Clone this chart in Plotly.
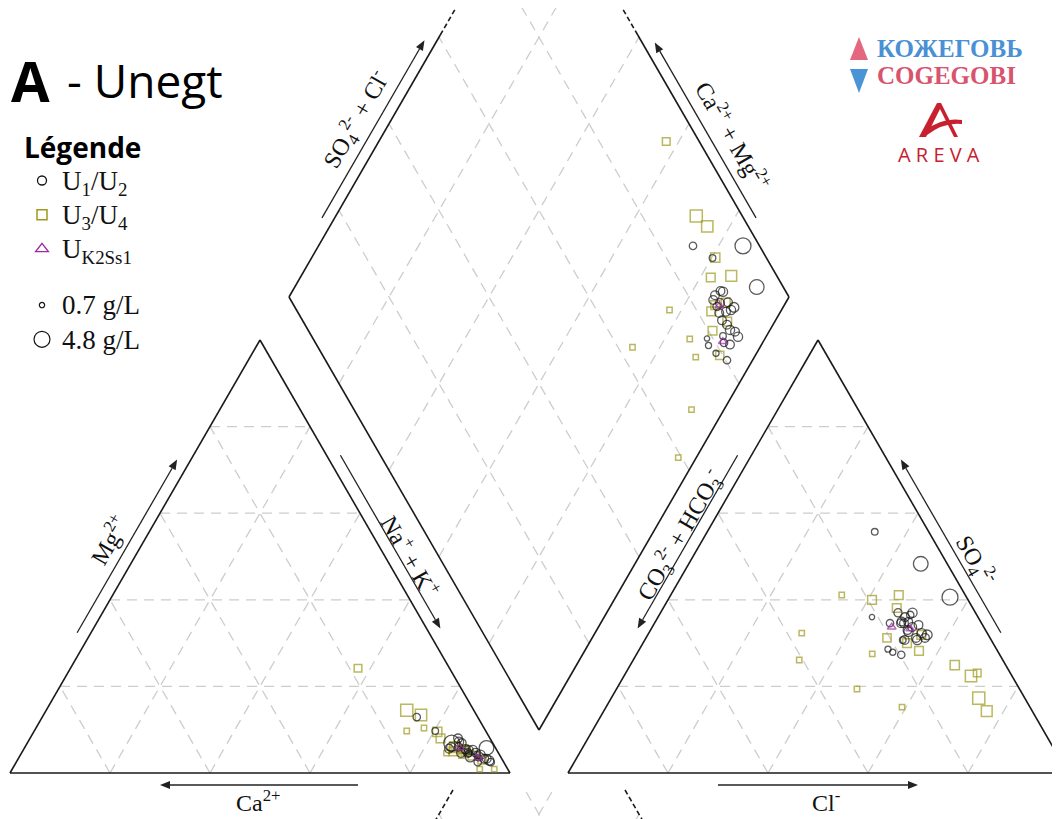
import math
import plotly.graph_objects as go

# ---------------- DATA (% of meq/L, TDS in g/L) ----------------
# U1/U2 samples (circles)
u12_ca = [12.2, 8.2, 1.8, 10.1, 6.6, 6.0, 4.6, 2.6, 9.4, 6.2, 6.6, 6.1, 7.3, 6.1, 4.5, 3.8, 3.5, 2.7, 3.0, 8.8, 5.6, 7.5, 4.8, 6.1, 4.5, 5.2, 6.4]
u12_mg = [12.9, 6.9, 5.8, 9.7, 5.0, 4.5, 3.5, 2.5, 5.6, 6.9, 7.2, 5.5, 6.0, 4.6, 4.7, 4.2, 3.3, 2.9, 3.3, 6.0, 5.3, 4.6, 5.3, 3.7, 4.2, 2.5, 8.0]
u12_nak = [74.9, 84.9, 92.4, 80.2, 88.4, 89.5, 91.9, 94.9, 85.0, 86.9, 86.2, 88.4, 86.7, 89.3, 90.8, 92.0, 93.2, 94.4, 93.7, 85.2, 89.1, 87.9, 89.9, 90.2, 91.3, 92.3, 85.6]
u12_hco3 = [13.3, 3.3, 5.3, 10.8, 21.2, 21.7, 21.1, 19.7, 14.6, 14.5, 12.6, 12.8, 15.5, 16.1, 15.6, 15.6, 14.8, 14.8, 17.3, 15.5, 14.3, 15.8, 13.1, 12.2, 17.7, 18.3, 13.0]
u12_so4 = [36.5, 40.6, 48.3, 55.7, 36.0, 28.6, 27.9, 27.3, 36.0, 34.9, 37.0, 34.2, 37.0, 34.6, 33.0, 32.6, 31.2, 30.7, 30.7, 34.6, 33.7, 35.0, 32.3, 31.9, 30.7, 34.6, 31.2]
u12_cl = [50.2, 56.1, 46.4, 33.5, 42.8, 49.7, 51.0, 53.0, 49.4, 50.6, 50.4, 53.0, 47.5, 49.3, 51.4, 51.8, 54.0, 54.5, 52.0, 49.9, 52.0, 49.2, 54.6, 55.9, 51.6, 47.1, 55.8]
u12_tds = [1.5, 4.8, 4.3, 1.2, 0.7, 1.0, 1.0, 1.5, 2.0, 2.0, 2.2, 2.0, 1.8, 2.0, 2.0, 2.2, 2.0, 2.2, 2.0, 2.0, 2.0, 2.0, 2.2, 2.4, 1.2, 1.5, 2.0]

# U3/U4 samples (squares)
u34_ca = [18.3, 13.4, 11.1, 8.0, 9.8, 9.9, 12.0, 7.9, 8.8, 6.4, 10.4, 15.8, 5.5, 7.7, 4.1, 5.6, 2.7, 6.5]
u34_mg = [24.2, 14.5, 13.4, 6.0, 9.5, 8.0, 10.4, 6.0, 5.0, 5.0, 4.6, 9.7, 4.0, 4.0, 3.0, 0.9, 0.9, 5.5]
u34_nak = [57.5, 72.1, 75.5, 86.0, 80.7, 82.1, 77.6, 86.1, 86.2, 88.6, 85.0, 74.5, 90.5, 88.3, 92.9, 93.5, 96.4, 88.0]
u34_hco3 = [6.6, 9.2, 8.2, 9.1, 10.2, 13.4, 25.4, 17.2, 15.7, 19.2, 24.7, 37.1, 15.2, 25.6, 20.6, 32.5, 40.7, 13.3]
u34_so4 = [23.1, 17.3, 22.4, 14.3, 24.9, 31.9, 27.5, 30.0, 28.2, 40.0, 41.1, 32.3, 38.1, 15.2, 31.2, 19.4, 26.1, 41.1]
u34_cl = [70.3, 73.5, 69.4, 76.6, 64.9, 54.7, 47.1, 52.8, 56.1, 40.8, 34.2, 30.6, 46.7, 59.2, 48.2, 48.1, 33.2, 45.6]
u34_tds = [1.6, 3.3, 3.0, 2.8, 2.2, 2.0, 0.7, 2.0, 2.0, 2.0, 0.7, 0.7, 2.0, 0.7, 1.8, 0.7, 0.7, 2.0]

# U K2Ss1 samples (triangles)
k2_ca = [7.1, 4.6]
k2_mg = [5.8, 3.5]
k2_nak = [87.1, 91.9]
k2_hco3 = [14.9, 18.4]
k2_so4 = [33.3, 33.7]
k2_cl = [51.8, 47.9]
k2_tds = [1.6, 1.6]

legend_tds = [0.7, 4.8]

# ---------------- GEOMETRY (window pixels; page body has an 8px margin) ----------------
W, HGT, OFF = 1060, 819, 8
SIDE = 500.0
H = SIDE * math.sqrt(3) / 2
CAT_BL = (10.0, 773.0)
AN_BL = (568.0, 773.0)
DIA_B = (539.0, 730.0)

CAT = [CAT_BL, (CAT_BL[0] + SIDE, CAT_BL[1]), (CAT_BL[0] + SIDE / 2, CAT_BL[1] - H)]
AN = [AN_BL, (AN_BL[0] + SIDE, AN_BL[1]), (AN_BL[0] + SIDE / 2, AN_BL[1] - H)]
DL = (DIA_B[0] - SIDE / 2, DIA_B[1] - H)
DR = (DIA_B[0] + SIDE / 2, DIA_B[1] - H)
DT = (DIA_B[0], DIA_B[1] - 2 * H)


def px(x):
    return (x - OFF) / (W - OFF)


def py(y):
    return 1 - (y - OFF) / (HGT - OFF)


def cat_xy(ca, mg, nak):
    t = ca + mg + nak
    m, n = mg / t, nak / t
    return CAT_BL[0] + SIDE * (n + m / 2), CAT_BL[1] - H * m


def an_xy(hco3, so4, cl):
    t = hco3 + so4 + cl
    s, c = so4 / t, cl / t
    return AN_BL[0] + SIDE * (c + s / 2), AN_BL[1] - H * s


def dia_xy(ca, mg, nak, hco3, so4, cl):
    v = (ca + mg) / (ca + mg + nak)
    u = (so4 + cl) / (hco3 + so4 + cl)
    return DIA_B[0] + SIDE / 2 * (u - v), DIA_B[1] - H * (u + v)


def msize(tds):
    return 3.5 + 2.6 * tds


def all_points(ca, mg, nak, hco3, so4, cl, tds):
    xs, ys, ss = [], [], []
    for i in range(len(ca)):
        for x, y in (cat_xy(ca[i], mg[i], nak[i]), an_xy(hco3[i], so4[i], cl[i]),
                     dia_xy(ca[i], mg[i], nak[i], hco3[i], so4[i], cl[i])):
            xs.append(x)
            ys.append(y)
            ss.append(msize(tds[i]))
    return xs, ys, ss


def lerp(P, Q, t):
    return (P[0] + (Q[0] - P[0]) * t, P[1] + (Q[1] - P[1]) * t)


def add(P, V):
    return (P[0] + V[0], P[1] + V[1])


def sub(P, Q):
    return (P[0] - Q[0], P[1] - Q[1])


def at_y(P, Q, y):
    t = (y - P[1]) / (Q[1] - P[1])
    return lerp(P, Q, t)


def clip_y(P, Q, ymin, ymax):
    if P[1] > Q[1]:
        P, Q = Q, P
    lo, hi = max(P[1], ymin), min(Q[1], ymax)
    if lo >= hi:
        return None
    return at_y(P, Q, lo), at_y(P, Q, hi)


fracs = [0.2, 0.4, 0.6, 0.8]
grid_segs = []
for (A, B, C) in (CAT, AN):
    for f in fracs:
        grid_segs.append((lerp(A, C, f), lerp(B, C, f)))
        grid_segs.append((lerp(A, B, f), lerp(C, B, f)))
        grid_segs.append((lerp(B, A, f), lerp(C, A, f)))
for f in fracs:
    p = lerp(DIA_B, DR, f)
    grid_segs.append((p, add(p, sub(DL, DIA_B))))
    p = lerp(DIA_B, DL, f)
    grid_segs.append((p, add(p, sub(DR, DIA_B))))

# next panel's diamond peeking in at the bottom
T2 = (539.0, 641.0)
L2 = (T2[0] - SIDE / 2, T2[1] + H)
R2 = (T2[0] + SIDE / 2, T2[1] + H)
low_black = []
for seg in ((T2, L2), (T2, R2)):
    c = clip_y(seg[0], seg[1], 790, 830)
    if c:
        low_black.append(c)
for f in fracs:
    p = lerp(T2, R2, f)
    c = clip_y(p, add(p, sub(L2, T2)), 792, 830)
    if c:
        grid_segs.append(c)
    p = lerp(T2, L2, f)
    c = clip_y(p, add(p, sub(R2, T2)), 792, 830)
    if c:
        grid_segs.append(c)


def seg_trace(segs, color, width, dash):
    xs, ys = [], []
    for P, Q in segs:
        xs += [P[0], Q[0], None]
        ys += [P[1], Q[1], None]
    return go.Scatter(x=xs, y=ys, mode="lines", line=dict(color=color, width=width, dash=dash),
                      hoverinfo="skip", showlegend=False)


fig = go.Figure()
fig.add_trace(seg_trace(grid_segs, "#cdcdcd", 1.3, "10px,7px"))

# outlines
outline = []
for tri in (CAT, AN):
    outline += [(tri[0], tri[1]), (tri[1], tri[2]), (tri[2], tri[0])]
top_y = 35.0
pl = at_y(DL, DT, top_y)
pr = at_y(DR, DT, top_y)
outline += [(pl, DL), (DL, DIA_B), (DIA_B, DR), (DR, pr)]
fig.add_trace(seg_trace(outline, "#1a1a1a", 1.6, "solid"))
dashed_black = [(pl, at_y(DL, DT, 6.0)), (pr, at_y(DR, DT, 6.0))] + low_black
fig.add_trace(seg_trace(dashed_black, "#1a1a1a", 1.6, "5px,3px"))

# data markers
SQ_COL = "#9e9a1e"
CI_COL = "#151515"
TR_COL = "#a02aa6"
x, y, s = all_points(u34_ca, u34_mg, u34_nak, u34_hco3, u34_so4, u34_cl, u34_tds)
fig.add_trace(go.Scatter(x=x, y=y, mode="markers", showlegend=False,
                         marker=dict(symbol="square-open", size=s, color=SQ_COL, line=dict(width=1.5, color=SQ_COL))))
x, y, s = all_points(u12_ca, u12_mg, u12_nak, u12_hco3, u12_so4, u12_cl, u12_tds)
fig.add_trace(go.Scatter(x=x, y=y, mode="markers", showlegend=False,
                         marker=dict(symbol="circle-open", size=s, color=CI_COL, line=dict(width=1.3, color=CI_COL))))
x, y, s = all_points(k2_ca, k2_mg, k2_nak, k2_hco3, k2_so4, k2_cl, k2_tds)
fig.add_trace(go.Scatter(x=x, y=y, mode="markers", showlegend=False,
                         marker=dict(symbol="triangle-up-open", size=s, color=TR_COL, line=dict(width=1.4, color=TR_COL))))

# legend entries (text drawn at 27px, row height driven by the 24px legend font)
LEG_SPAN = '<span style="font-size:27px">{}</span>'
fig.add_trace(go.Scatter(x=[None], y=[None], mode="markers", name=LEG_SPAN.format("U<sub>1</sub>/U<sub>2</sub>"),
                         legendgroup="g",
                         marker=dict(symbol="circle-open", size=9, color=CI_COL, line=dict(width=1.3, color=CI_COL))))
fig.add_trace(go.Scatter(x=[None], y=[None], mode="markers", name=LEG_SPAN.format("U<sub>3</sub>/U<sub>4</sub>"),
                         legendgroup="g",
                         marker=dict(symbol="square-open", size=10, color=SQ_COL, line=dict(width=1.5, color=SQ_COL))))
fig.add_trace(go.Scatter(x=[None], y=[None], mode="markers", name=LEG_SPAN.format("U<sub>K2Ss1</sub>"),
                         legendgroup="g",
                         marker=dict(symbol="triangle-up-open", size=11, color=TR_COL, line=dict(width=1.4, color=TR_COL))))
for t in legend_tds:
    fig.add_trace(go.Scatter(x=[None], y=[None], mode="markers", name=LEG_SPAN.format(f"{t} g/L"), legendgroup="s",
                             marker=dict(symbol="circle-open", size=msize(t), color=CI_COL, line=dict(width=1.2, color=CI_COL))))

# ---------------- arrows (shapes) ----------------
shapes = []
ARROW_COL = "#222222"


def add_arrow(tail, head):
    dx, dy = head[0] - tail[0], head[1] - tail[1]
    L = math.hypot(dx, dy)
    ux, uy = dx / L, dy / L
    hl, hw = 10.0, 4.0
    base = (head[0] - ux * hl, head[1] - uy * hl)
    shapes.append(dict(type="line", xref="x", yref="y", x0=tail[0], y0=tail[1], x1=base[0], y1=base[1],
                       line=dict(color=ARROW_COL, width=1.3)))
    p1 = (base[0] - uy * hw, base[1] + ux * hw)
    p2 = (base[0] + uy * hw, base[1] - ux * hw)
    shapes.append(dict(type="path", xref="x", yref="y",
                       path=f"M {head[0]:.1f},{head[1]:.1f} L {p1[0]:.1f},{p1[1]:.1f} L {p2[0]:.1f},{p2[1]:.1f} Z",
                       fillcolor=ARROW_COL, line=dict(width=0)))


def off_edge(P, Q, t0, t1, d):
    dx, dy = Q[0] - P[0], Q[1] - P[1]
    L = math.hypot(dx, dy)
    n = (dy / L * d, -dx / L * d)
    return add(lerp(P, Q, t0), n), add(lerp(P, Q, t1), n)


for tail, head in [
    off_edge(CAT[1], CAT[0], 0.304, 0.70, 12),   # Ca
    off_edge(CAT[0], CAT[2], 0.31, 0.71, 12),    # Mg
    off_edge(CAT[2], CAT[1], 0.28, 0.68, 12),    # Na+K
    off_edge(AN[0], AN[1], 0.30, 0.70, -12),     # Cl
    off_edge(AN[1], AN[2], 0.31, 0.71, -12),     # SO4
    off_edge(AN[2], AN[0], 0.28, 0.68, -12),     # CO3+HCO3
    off_edge(DL, DT, 0.17, 0.58, 11),            # SO4+Cl
    off_edge(DR, DT, 0.17, 0.575, -11),          # Ca+Mg
]:
    add_arrow(tail, head)

# ---------------- annotations ----------------
ann = []
SERIF = "Liberation Serif"


def label(txt, x, y, ang=0, size=24):
    return dict(x=x, y=y, xref="x", yref="y", text=txt, showarrow=False, textangle=ang,
                xanchor="center", yanchor="middle", font=dict(family=SERIF, size=size, color="#111"))


ann += [
    label("Ca<sup>2+</sup>", 258, 801),
    label("Mg<sup>2+</sup>", 108, 540, -60),
    label("Na<sup>+</sup> + K<sup>+</sup>", 411, 556, 60),
    label("SO<sub>4</sub><sup>2-</sup> + Cl<sup>-</sup>", 356, 120, -60),
    label("Ca<sup>2+</sup> + Mg<sup>2+</sup>", 733, 135, 60),
    label("CO<sub>3</sub><sup>2-</sup> + HCO<sub>3</sub><sup>-</sup>", 680, 535, -60),
    label("SO<sub>4</sub><sup>2-</sup>", 975, 560, 60),
    label("Cl<sup>-</sup>", 826, 801),
]

# title
ann.append(dict(x=9, y=80, xref="x", yref="y", text="<b>A</b>", showarrow=False, xanchor="left", yanchor="middle",
                font=dict(family="Open Sans", size=56, color="black")))
ann.append(dict(x=65, y=80, xref="x", yref="y", text="- Unegt", showarrow=False, xanchor="left", yanchor="middle",
                font=dict(family="Open Sans", size=46, color="black")))

# logos
ann.append(dict(x=875, y=48, xref="x", yref="y", text="<b>КОЖЕГОВЬ</b>", showarrow=False, xanchor="left",
                yanchor="middle", font=dict(family=SERIF, size=25, color="#4a90d4")))
ann.append(dict(x=875, y=75, xref="x", yref="y", text="<b>COGEGOBI</b>", showarrow=False, xanchor="left",
                yanchor="middle", font=dict(family=SERIF, size=25, color="#d8546e")))
ann.append(dict(x=939, y=154, xref="x", yref="y", text="A R E V A", showarrow=False, xanchor="center",
                yanchor="middle", font=dict(family="Open Sans", size=20, color="#c8202f")))

shapes += [
    dict(type="path", xref="x", yref="y", path="M 850,60 L 859,37 L 868,60 Z", fillcolor="#e2677f", line=dict(width=0)),
    dict(type="path", xref="x", yref="y", path="M 850,69 L 868,69 L 859,93 Z", fillcolor="#4a93d5", line=dict(width=0)),
    dict(type="path", xref="x", yref="y", path="M 919,137 L 926,137 L 941,107 L 937,103 Z", fillcolor="#c8202f", line=dict(width=0)),
    dict(type="path", xref="x", yref="y", path="M 937,103 L 941,103 L 958,137 L 954,137 Z", fillcolor="#c8202f", line=dict(width=0)),
    dict(type="path", xref="x", yref="y", path="M 924,131 Q 942,117 962,120 L 962,124 Q 944,122 927,135 Z", fillcolor="#c8202f", line=dict(width=0)),
]

fig.update_layout(
    width=W - OFF, height=HGT - OFF, autosize=False,
    margin=dict(l=0, r=0, t=0, b=0),
    paper_bgcolor="white", plot_bgcolor="white",
    xaxis=dict(range=[OFF, W], visible=False, fixedrange=True),
    yaxis=dict(range=[HGT, OFF], visible=False, fixedrange=True),
    annotations=ann, shapes=shapes,
    showlegend=True,
    legend=dict(x=px(22), y=py(122), xanchor="left", yanchor="top", bgcolor="rgba(0,0,0,0)",
                font=dict(family=SERIF, size=24, color="#111"),
                title=dict(text="<b>Légende</b>", font=dict(family="Open Sans", size=28, color="black")),
                traceorder="grouped", tracegroupgap=22, itemsizing="trace"),
)

fig.write_html("out.html")
